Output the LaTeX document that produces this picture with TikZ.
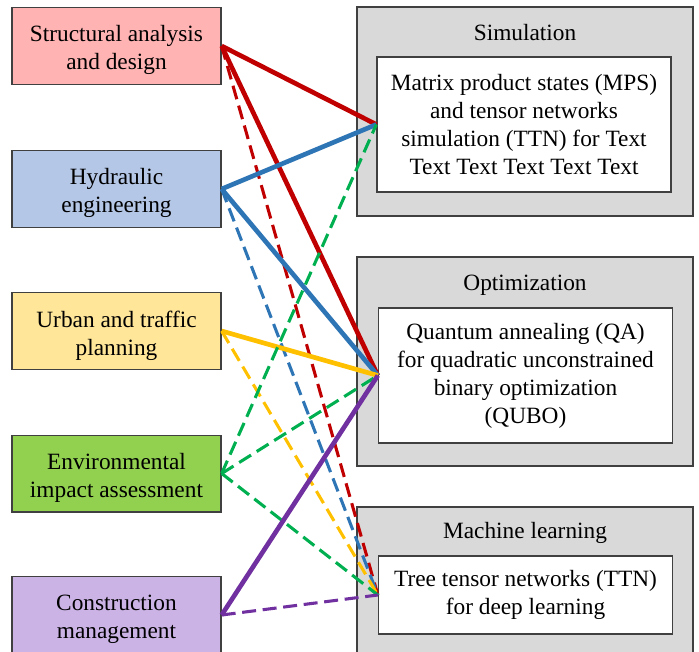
\documentclass[tikz,border=0pt]{standalone}
\usepackage{fontspec}
\setmainfont{Liberation Serif}
\definecolor{boxline}{HTML}{404040}
\definecolor{fpink}{HTML}{FFB3B3}
\definecolor{fblue}{HTML}{B4C7E7}
\definecolor{fyellow}{HTML}{FFE699}
\definecolor{fgreen}{HTML}{92D050}
\definecolor{fpurple}{HTML}{CCB3E6}
\definecolor{fgrey}{HTML}{D9D9D9}
\definecolor{lred}{HTML}{C00000}
\definecolor{lblue}{HTML}{2E75B6}
\definecolor{lyellow}{HTML}{FFC000}
\definecolor{lgreen}{HTML}{00B050}
\definecolor{lpurple}{HTML}{7030A0}
\begin{document}
\begin{tikzpicture}[x=0.75pt,y=-0.75pt,
  txt/.style={font=\fontsize{17.5}{21}\selectfont, align=center},
  leftbox/.style={draw=boxline, line width=1pt, minimum width=156.75pt, minimum height=57.5pt, inner sep=0pt},
  outerbox/.style={draw=boxline, line width=1pt, fill=fgrey, minimum width=252pt, inner sep=0pt},
  innerbox/.style={txt, draw=boxline, line width=1pt, fill=white, minimum width=220.5pt, inner sep=0pt},
  solidlink/.style={line width=3.5pt},
  dashlink/.style={line width=2.3pt, dash pattern=on 10.5pt off 5pt}]
\clip (0,0) rectangle (699,652);
% left boxes
\node[leftbox, fill=fpink] (s) at (116.5,46) {};
\node[txt] (stx) at (116.5,50) {Structural analysis\\and design};
\node[leftbox, fill=fblue] (h) at (116.5,189) {};
\node[txt] (htx) at (116.5,193) {Hydraulic\\engineering};
\node[leftbox, fill=fyellow] (u) at (116.5,331) {};
\node[txt] (utx) at (116.5,335.5) {Urban and traffic\\planning};
\node[leftbox, fill=fgreen] (e) at (116.5,473.5) {};
\node[txt] (etx) at (116.5,477.5) {Environmental\\impact assessment};
\node[leftbox, fill=fpurple] (c) at (116.5,615) {};
\node[txt] (ctx) at (116.5,619.5) {Construction\\management};
% right groups
\node[outerbox, minimum height=156.75pt] (simo) at (525,111.5) {};
\node[txt] (simt) at (525,33) {Simulation};
\node[innerbox, minimum height=101.25pt] (sim) at (524,124.5) {Matrix product states (MPS)\\and tensor networks\\simulation (TTN) for Text\\Text Text Text Text Text};
\node[outerbox, minimum height=156.75pt] (opto) at (525,361.5) {};
\node[txt] (optt) at (525,285) {Optimization};
\node[innerbox, minimum height=101.25pt] (opt) at (525.5,375.5) {Quantum annealing (QA)\\for quadratic unconstrained\\binary optimization\\(QUBO)};
\node[outerbox, minimum height=156.75pt] (mlo) at (525,611.5) {};
\node[txt] (mlt) at (525,533) {Machine learning};
\node[innerbox, minimum height=58.5pt] (ml) at (525.5,595) {Tree tensor networks (TTN)\\for deep learning};
% connectors
\draw[solidlink, lred] (s.east) -- (sim.west);
\draw[solidlink, lred] (s.east) -- (opt.west);
\draw[dashlink, lred] (s.east) -- (ml.west);
\draw[solidlink, lblue] (h.east) -- (sim.west);
\draw[solidlink, lblue] (h.east) -- (opt.west);
\draw[dashlink, lblue] (h.east) -- (ml.west);
\draw[solidlink, lyellow] (u.east) -- (opt.west);
\draw[dashlink, lyellow] (u.east) -- (ml.west);
\draw[dashlink, lgreen] (e.east) -- (sim.west);
\draw[dashlink, lgreen] (e.east) -- (opt.west);
\draw[dashlink, lgreen] (e.east) -- (ml.west);
\draw[solidlink, lpurple] (c.east) -- (opt.west);
\draw[dashlink, lpurple] (c.east) -- (ml.west);
\end{tikzpicture}
\end{document}
